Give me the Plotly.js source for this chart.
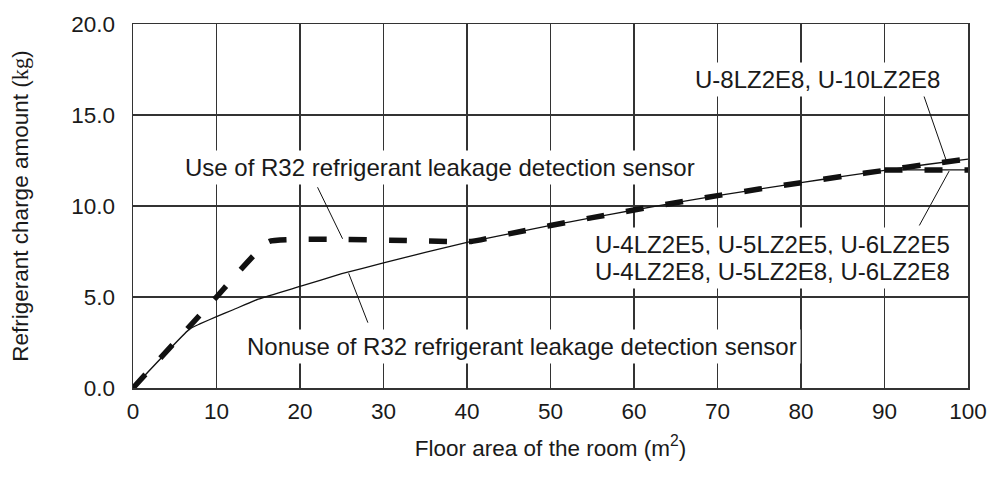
<!DOCTYPE html>
<html>
<head>
<meta charset="utf-8">
<script src="https://cdn.plot.ly/plotly-3.0.1.min.js"></script>
<style>html,body{margin:0;padding:0;background:#fff;}#chart{width:999px;height:477px;}</style>
</head>
<body>
<div id="chart"></div>
<script>
// Floor area of the room (m2) and refrigerant charge amount (kg)
const areaNonuse   = [0, 6.8, 8, 10, 12, 15, 20, 25, 30, 35, 40, 45, 50, 55, 60, 65, 70, 75, 80, 85, 90, 95, 100];
const chargeNonuse = [0, 3.25, 3.52, 3.92, 4.3, 4.88, 5.58, 6.28, 6.87, 7.45, 8.0, 8.47, 8.93, 9.36, 9.78, 10.18, 10.57, 10.93, 11.28, 11.63, 11.96, 12.28, 12.58];
const areaUse      = [0, 10, 16.3, 40.5, 45, 50, 55, 60, 65, 70, 75, 80, 85, 90, 95, 100];
const chargeUse    = [0, 5.0, 8.05, 8.05, 8.47, 8.93, 9.36, 9.78, 10.18, 10.57, 10.93, 11.28, 11.63, 11.96, 12.28, 12.58];
const areaSmall    = [90, 100];
const chargeSmall  = [11.98, 11.98];
const xTicks = [0, 10, 20, 30, 40, 50, 60, 70, 80, 90, 100];
const yTicks = [0, 5, 10, 15, 20];
const yTickText = ['0.0', '5.0', '10.0', '15.0', '20.0'];

const FONT = 'Liberation Sans, Arial, Helvetica, sans-serif';
const TXT = '#1a1a1a';

const solid = {width: 1.3, color: '#111'};
const dashed = {width: 5.5, color: '#111', dash: '18px,22px'};

const traces = [
  {x: areaNonuse, y: chargeNonuse, mode: 'lines', line: Object.assign({shape: 'spline', smoothing: 0.4}, solid), name: 'Nonuse (U-8/U-10)'},
  {x: areaSmall, y: chargeSmall, mode: 'lines', line: solid, name: 'Nonuse (U-4/5/6)'},
  {x: areaUse, y: chargeUse, mode: 'lines', line: Object.assign({shape: 'spline', smoothing: 0.3}, dashed), name: 'Use (U-8/U-10)'},
  {x: areaSmall, y: chargeSmall, mode: 'lines', line: dashed, name: 'Use (U-4/5/6)'}
];

function ann(text, x, y, xanchor) {
  return {text: text, x: x, y: y, xref: 'x', yref: 'y', xanchor: xanchor || 'center', yanchor: 'middle',
    showarrow: false, bgcolor: '#ffffff', borderpad: 3, font: {family: FONT, size: 24, color: TXT}};
}
function leader(x0, y0, x1, y1) {
  return {type: 'line', xref: 'x', yref: 'y', x0: x0, y0: y0, x1: x1, y1: y1, line: {color: '#111', width: 1}, layer: 'above'};
}

const layout = {
  width: 999, height: 477,
  margin: {l: 133, r: 26, t: 19, b: 89},
  paper_bgcolor: '#fff', plot_bgcolor: '#fff',
  showlegend: false,
  font: {family: FONT, size: 21, color: TXT},
  xaxis: {
    range: [0, 100], tickvals: xTicks, showgrid: true, gridcolor: '#333', gridwidth: 1.3,
    showline: true, linecolor: '#333', linewidth: 1.5, mirror: true, zeroline: false,
    ticks: '', ticklabelstandoff: 2, tickfont: {family: FONT, size: 22.5, color: TXT},
    title: {text: 'Floor area of the room (m<sup>2</sup>)', font: {family: FONT, size: 22.5, color: TXT}, standoff: 17},
    automargin: true, fixedrange: true
  },
  yaxis: {
    range: [0, 20], tickvals: yTicks, ticktext: yTickText, showgrid: true, gridcolor: '#333', gridwidth: 1.3,
    showline: true, linecolor: '#333', linewidth: 1.5, mirror: true, zeroline: false,
    ticks: '', ticklabelstandoff: 12, tickfont: {family: FONT, size: 22.5, color: TXT},
    title: {text: 'Refrigerant charge amount (<span style="font-family:Liberation Serif">kg</span>)', font: {family: FONT, size: 22.5, color: TXT}, standoff: 36},
    automargin: true, fixedrange: true
  },
  annotations: [
    ann('Use of R32 refrigerant leakage detection sensor', 5.7, 12.09, 'left'),
    ann('Nonuse of R32 refrigerant leakage detection sensor', 13.2, 2.28, 'left'),
    ann('U-8LZ2E8, U-10LZ2E8', 81.96, 16.96, 'center'),
    ann('U-4LZ2E5, U-5LZ2E5, U-6LZ2E5', 98.3, 7.9, 'right'),
    ann('U-4LZ2E8, U-5LZ2E8, U-6LZ2E8', 98.3, 6.42, 'right')
  ],
  shapes: [
    leader(22.1, 11.03, 25.1, 8.2),
    leader(25.83, 6.3, 28.13, 3.59),
    leader(94.5, 16.33, 97.5, 12.36),
    leader(94.17, 8.93, 97.74, 11.92)
  ]
};

Plotly.newPlot('chart', traces, layout, {displayModeBar: false, staticPlot: true});
</script>
</body>
</html>
